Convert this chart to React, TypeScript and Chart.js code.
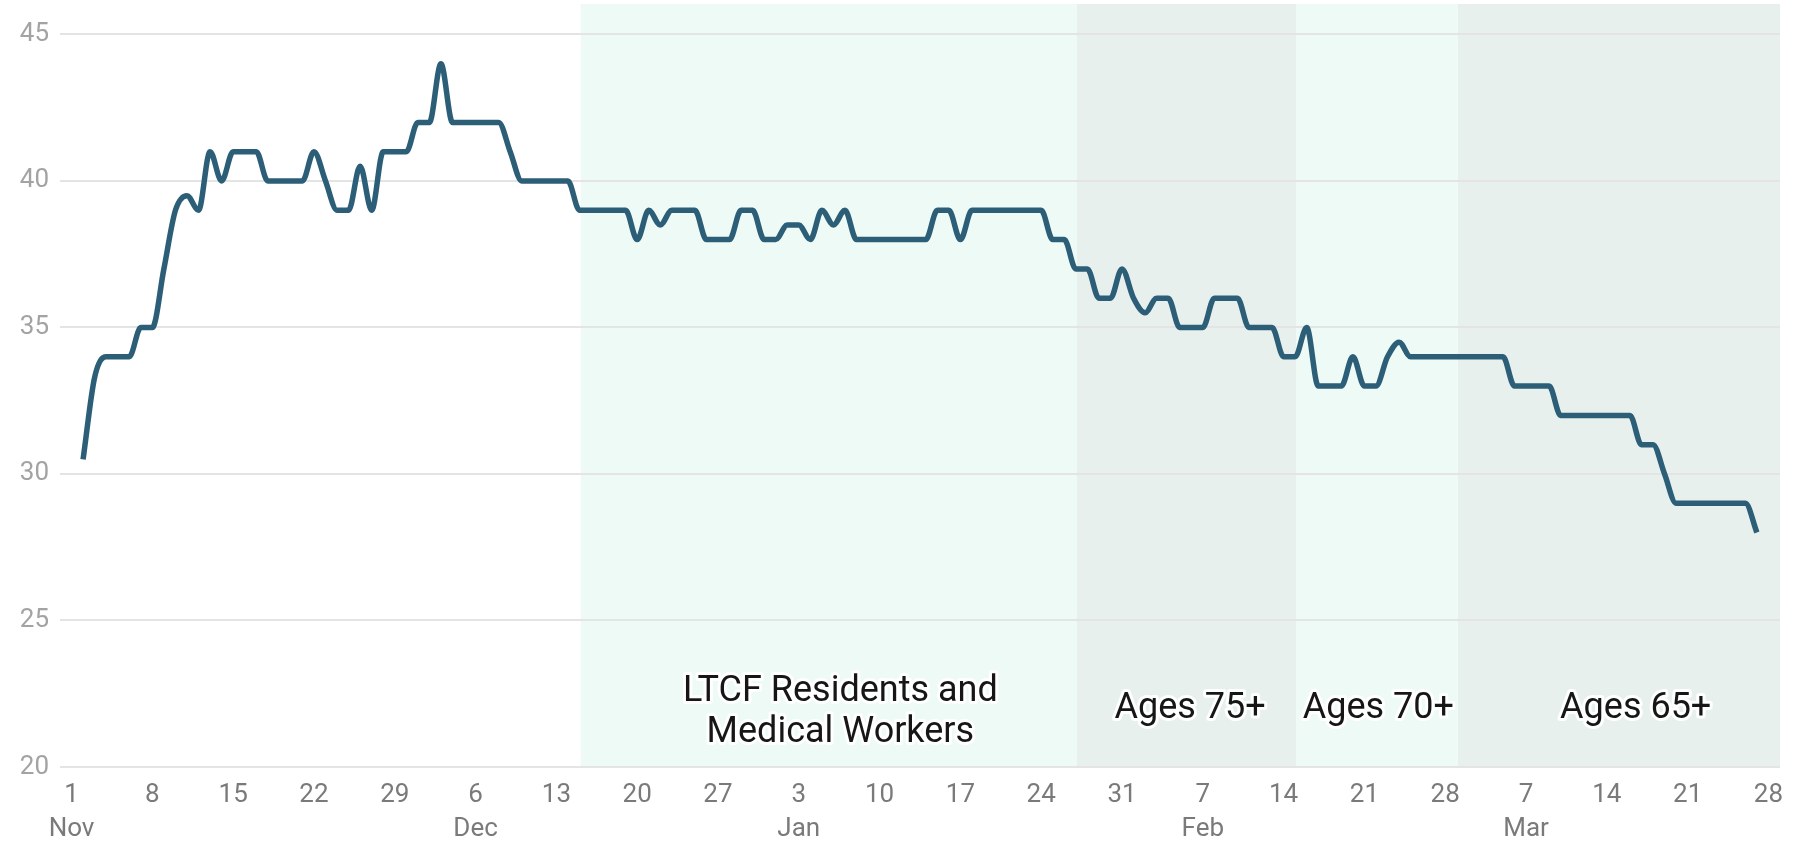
import React, { useEffect, useRef } from "react";
import { Chart, registerables } from "chart.js";

Chart.register(...registerables);

// Day index 0 = Nov 1; first data point is Nov 2 (day 1)
const START_DAY = 1;
const VALUES = [
  30.5, 33.3, 34, 34, 34, 35, 35, 37, 39, 39.5,
  39, 41, 40, 41, 41, 41, 40, 40, 40, 40,
  41, 40, 39, 39, 40.5, 39, 41, 41, 41, 42,
  42, 44, 42, 42, 42, 42, 42, 41, 40, 40,
  40, 40, 40, 39, 39, 39, 39, 39, 38, 39,
  38.5, 39, 39, 39, 38, 38, 38, 39, 39, 38,
  38, 38.5, 38.5, 38, 39, 38.5, 39, 38, 38, 38,
  38, 38, 38, 38, 39, 39, 38, 39, 39, 39,
  39, 39, 39, 39, 38, 38, 37, 37, 36, 36,
  37, 36, 35.5, 36, 36, 35, 35, 35, 36, 36,
  36, 35, 35, 35, 34, 34, 35, 33, 33, 33,
  34, 33, 33, 34, 34.5, 34, 34, 34, 34, 34,
  34, 34, 34, 34, 33, 33, 33, 33, 32, 32,
  32, 32, 32, 32, 32, 31, 31, 30, 29, 29,
  29, 29, 29, 29, 29, 28,
];

const TICK_DAYS = [0, 7, 14, 21, 28, 35, 42, 49, 56, 63, 70, 77, 84, 91, 98, 105, 112, 119, 126, 133, 140, 147];
const TICK_NUMBERS = ["1", "8", "15", "22", "29", "6", "13", "20", "27", "3", "10", "17", "24", "31", "7", "14", "21", "28", "7", "14", "21", "28"];
const TICK_MONTHS = ["Nov", "", "", "", "", "Dec", "", "", "", "Jan", "", "", "", "", "Feb", "", "", "", "Mar", "", "", ""];

const Y_MIN = 20;
const Y_MAX = 46.04;
const Y_STEP = 5;
const X_MIN = -1;
const X_MAX = 148;

const PHASE_START = [44.1, 87.1, 106.1, 120.1];
const PHASE_END = [87.1, 106.1, 120.1, 148];
const PHASE_COLORS = ["#eefaf6", "#e8f0ee", "#eefaf6", "#e8f0ee"];
const PHASE_TEXT = [["LTCF Residents and", "Medical Workers"], ["Ages 75+"], ["Ages 70+"], ["Ages 65+"]];
const PHASE_TEXT_DAY = [66.6, 96.9, 113.2, 135.5];
// baseline of the first text line, in y-axis units
const PHASE_TEXT_VALUE = [22.26, 21.67, 21.67, 21.67];

const LINE_COLOR = "#2c5f77";

const phasePlugin = {
  id: "phases",
  beforeDraw(chart: any) {
    const { ctx, chartArea, scales } = chart;
    const x = scales.x;
    ctx.save();
    PHASE_START.forEach((s, i) => {
      const x0 = x.getPixelForValue(s);
      const x1 = x.getPixelForValue(PHASE_END[i]);
      ctx.fillStyle = PHASE_COLORS[i];
      ctx.fillRect(x0, chartArea.top, x1 - x0, chartArea.bottom - chartArea.top);
    });
    ctx.restore();
  },
  afterDatasetsDraw(chart: any) {
    const { ctx, scales } = chart;
    const x = scales.x;
    const y = scales.y;
    ctx.save();
    ctx.font = "36px Roboto";
    ctx.textAlign = "center";
    ctx.textBaseline = "alphabetic";
    ctx.lineJoin = "round";
    const lh = 41;
    PHASE_TEXT.forEach((lines, i) => {
      const cx = x.getPixelForValue(PHASE_TEXT_DAY[i]);
      const by = y.getPixelForValue(PHASE_TEXT_VALUE[i]);
      lines.forEach((t, j) => {
        const ty = by + j * lh;
        ctx.strokeStyle = "rgba(255,255,255,0.95)";
        ctx.lineWidth = 6;
        ctx.strokeText(t, cx, ty);
        ctx.fillStyle = "#161616";
        ctx.fillText(t, cx, ty);
      });
    });
    ctx.restore();
  },
};

export default function App() {
  const ref = useRef<HTMLCanvasElement | null>(null);

  useEffect(() => {
    if (!ref.current) return;
    const points = VALUES.map((v, i) => ({ x: START_DAY + i, y: v }));
    const chart = new Chart(ref.current, {
      type: "line",
      data: {
        datasets: [
          {
            data: points,
            borderColor: LINE_COLOR,
            borderWidth: 5.5,
            pointRadius: 0,
            pointHoverRadius: 0,
            cubicInterpolationMode: "monotone",
            borderJoinStyle: "round",
            fill: false,
          },
        ],
      },
      options: {
        animation: false,
        responsive: false,
        devicePixelRatio: 1,
        layout: { padding: { top: 4, right: 23, left: 0, bottom: 0 } },
        plugins: {
          legend: { display: false },
          tooltip: { enabled: false },
        },
        scales: {
          x: {
            type: "linear",
            min: X_MIN,
            max: X_MAX,
            grid: { display: false, drawTicks: false },
            border: { display: false },
            afterBuildTicks: (scale: any) => {
              scale.ticks = TICK_DAYS.map((v) => ({ value: v }));
            },
            afterFit: (scale: any) => {
              scale.height = 77;
              scale.paddingLeft = 0;
              scale.paddingRight = 0;
            },
            ticks: {
              autoSkip: false,
              maxRotation: 0,
              padding: 12,
              color: "#7a7a7a",
              font: { family: "Roboto", size: 26, lineHeight: 1.3 },
              callback: (value: any) => {
                const i = TICK_DAYS.indexOf(Number(value));
                if (i < 0) return "";
                return TICK_MONTHS[i] ? [TICK_NUMBERS[i], TICK_MONTHS[i]] : TICK_NUMBERS[i];
              },
            },
          },
          y: {
            min: Y_MIN,
            max: Y_MAX,
            grid: { color: "#e4e4e4", lineWidth: 2, drawTicks: false },
            border: { display: false },
            afterFit: (scale: any) => {
              scale.width = 60;
              scale.paddingTop = 0;
              scale.paddingBottom = 0;
            },
            ticks: {
              stepSize: Y_STEP,
              includeBounds: false,
              padding: 11,
              color: "#a3a3a3",
              font: { family: "Roboto", size: 26 },
            },
          },
        },
      },
      plugins: [phasePlugin],
    } as any);
    return () => chart.destroy();
  }, []);

  return (
    <div style={{ position: "fixed", left: 0, top: 0, width: 1803, height: 844, background: "#ffffff" }}>
      <canvas ref={ref} width={1803} height={844} style={{ display: "block" }} />
    </div>
  );
}
